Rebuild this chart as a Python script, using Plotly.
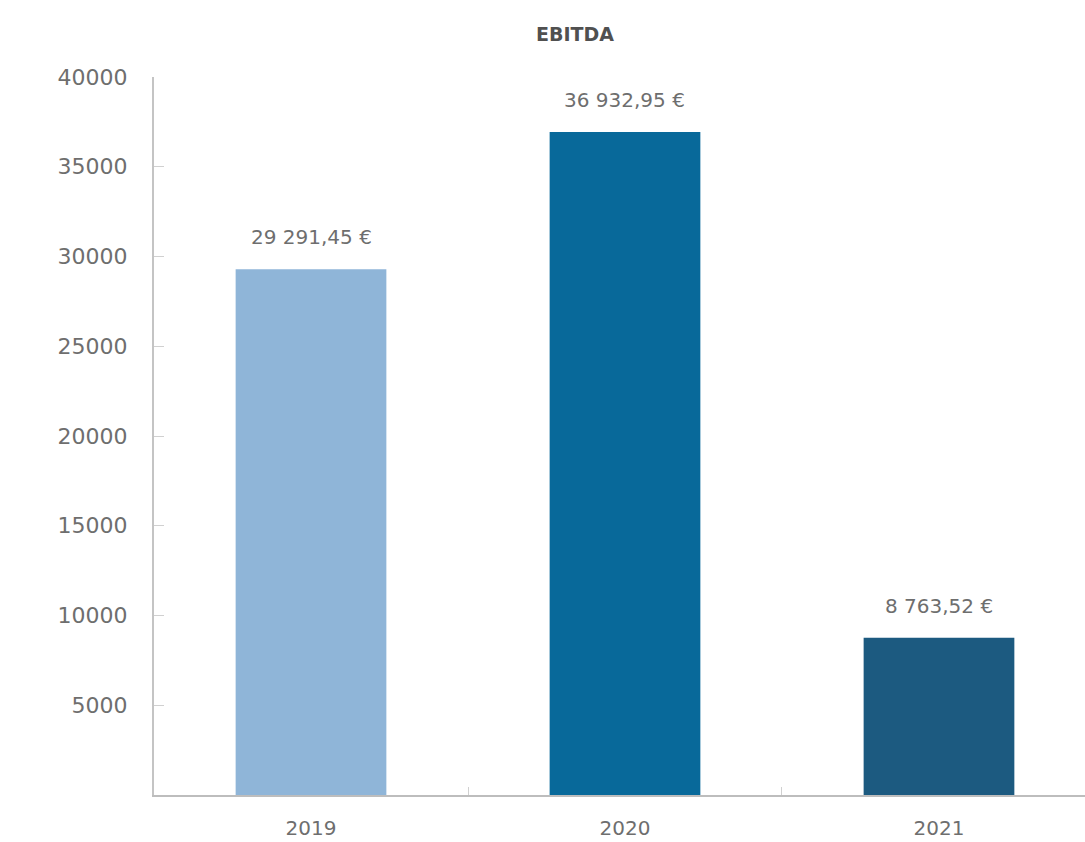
import plotly.graph_objects as go

# EBITDA by year
years = ["2019", "2020", "2021"]
ebitda = [29291.45, 36932.95, 8763.52]
bar_colors = ["#8fb5d8", "#08699a", "#1c5a80"]
y_ticks = [5000, 10000, 15000, 20000, 25000, 30000, 35000, 40000]

FONT = "DejaVu Sans"
PLOT_LEFT, PLOT_RIGHT = 154, 1085


def fmt_eur(v):
    whole, dec = f"{v:,.2f}".split(".")
    return whole.replace(",", " ") + "," + dec + " €"


fig = go.Figure(
    go.Bar(
        x=years,
        y=ebitda,
        marker=dict(color=bar_colors, line=dict(width=0)),
        width=0.48,
        hoverinfo="skip",
    )
)

# value labels above each bar (category index positions)
for i, v in enumerate(ebitda):
    fig.add_annotation(
        x=i, y=v, text=fmt_eur(v), showarrow=False,
        xanchor="center", yanchor="bottom", yshift=18,
        font=dict(family=FONT, size=20, color="#6e6e6e"),
    )

# chart title
fig.add_annotation(
    x=(575 - PLOT_LEFT) / (PLOT_RIGHT - PLOT_LEFT), xref="paper",
    y=1, yref="paper", text="<b>EBITDA</b>",
    showarrow=False, xanchor="center", yanchor="bottom", yshift=30,
    font=dict(family=FONT, size=19, color="#505050"),
)

fig.update_layout(
    width=1085, height=842,
    margin=dict(l=PLOT_LEFT, r=1085 - PLOT_RIGHT, t=77, b=47),
    plot_bgcolor="white", paper_bgcolor="white",
    showlegend=False,
)

fig.update_xaxes(
    type="category",
    range=[-0.5, 2.465], showline=True, linecolor="#bdbdbd", linewidth=2,
    ticks="inside", tickson="boundaries", ticklen=8, tickcolor="#d0d0d0",
    showgrid=False, tickfont=dict(family=FONT, size=20, color="#6e6e6e"),
    ticklabelstandoff=14,
)
fig.update_yaxes(
    range=[0, 40000], tickvals=y_ticks, ticktext=[str(t) for t in y_ticks],
    showline=True, linecolor="#c4c4c4",
    linewidth=2, ticks="inside", ticklen=10, tickcolor="#d0d0d0",
    showgrid=False, zeroline=False,
    tickfont=dict(family=FONT, size=22, color="#6e6e6e"),
    ticklabelstandoff=20,
)

fig.write_html("out.html")
